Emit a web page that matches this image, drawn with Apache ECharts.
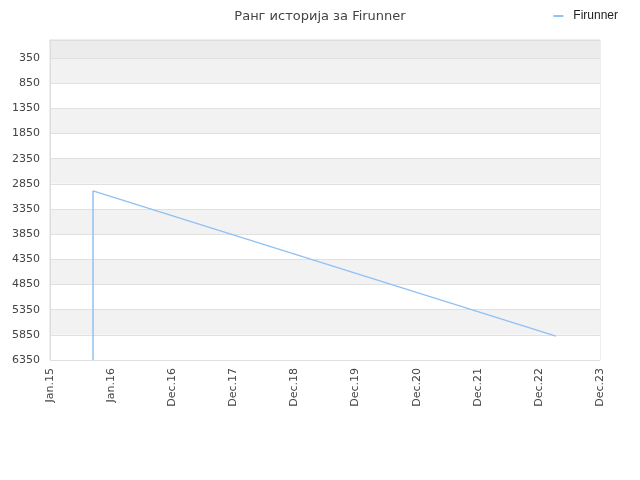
<!DOCTYPE html>
<html style="height: 100%">
  <head>
    <meta charset="utf-8" />
  </head>
  <body style="height: 100%; margin: 0">
    <div id="container" style="height: 100%"></div>
    <script
      type="text/javascript"
      src="https://cdn.jsdelivr.net/npm/echarts@6/dist/echarts.min.js"
    ></script>
    <script type="text/javascript">
      var seriesName = "Firunner";
      // rank history: dates and rank values
      var rankDates = ["2015-09-15", "2015-09-15", "2023-04-11"];
      var rankValues = [6350, 2990, 5875];
      // y tick labels
      var yLabels = [350, 850, 1350, 1850, 2350, 2850, 3350, 3850, 4350, 4850, 5350, 5850, 6350];
      var yTop = -8;
      // x axis: start date, step of 365 days
      var xStart = "2015-01-01";
      var xStepDays = 365;
      var xSteps = 9;
      var months = ["Jan", "Feb", "Mar", "Apr", "May", "Jun", "Jul", "Aug", "Sep", "Oct", "Nov", "Dec"];

      var DAY = 86400000;
      var xMin = Date.parse(xStart);
      var xMax = xMin + xSteps * xStepDays * DAY;

      var data = rankDates.map(function (d, i) {
        return [Date.parse(d), rankValues[i]];
      });

      var bandColors = ["#ececec"];
      for (var i = 0; i < yLabels.length; i++) {
        bandColors.push(i % 2 === 0 ? "#f2f2f2" : "#ffffff");
      }

      var dom = document.getElementById("container");
      var myChart = echarts.init(dom);
      var option = {
        textStyle: { fontFamily: "DejaVu Sans" },
        title: {
          text: "Ранг историја за Firunner",
          left: "center",
          top: 5,
          textStyle: { fontSize: 13, fontWeight: "normal", color: "#444", fontFamily: "DejaVu Sans" },
        },
        legend: {
          right: 17,
          top: 5,
          icon: "rect",
          itemWidth: 10,
          itemHeight: 2,
          itemGap: 5,
          textStyle: {
            fontSize: 12,
            color: "#222",
            fontFamily: "Liberation Sans",
            padding: [0, 0, 0, 5],
          },
          data: [seriesName],
        },
        grid: {
          left: 50,
          right: 40,
          top: 40,
          bottom: 120,
          show: true,
          borderColor: "#dddddd",
          borderWidth: 1,
        },
        xAxis: {
          type: "value",
          min: xMin,
          max: xMax,
          interval: xStepDays * DAY,
          axisLine: { lineStyle: { color: "#dddddd" } },
          axisTick: { show: false },
          splitLine: { show: false },
          axisLabel: {
            rotate: 90,
            margin: 8,
            fontSize: 11,
            color: "#444",
            fontFamily: "DejaVu Sans",
            formatter: function (v) {
              var d = new Date(v);
              return months[d.getUTCMonth()] + "." + String(d.getUTCFullYear()).slice(2);
            },
          },
        },
        yAxis: {
          type: "value",
          inverse: true,
          min: yTop,
          max: yLabels[yLabels.length - 1],
          axisLine: { show: true, lineStyle: { color: "#dddddd" } },
          axisTick: { show: false, customValues: [yTop].concat(yLabels) },
          axisLabel: {
            customValues: yLabels,
            margin: 10,
            fontSize: 11,
            color: "#444",
            fontFamily: "DejaVu Sans",
            formatter: function (v) {
              return String(v);
            },
          },
          splitLine: { show: true, lineStyle: { color: "#e0e0e0" } },
          splitArea: { show: true, areaStyle: { color: bandColors } },
        },
        series: [
          {
            name: seriesName,
            type: "line",
            data: data,
            showSymbol: false,
            symbol: "none",
            color: "#90c2f4",
            lineStyle: { width: 1.5, color: "#90c2f4" },
          },
        ],
      };

      if (option && typeof option === "object") {
        myChart.setOption(option);
      }
    </script>
  </body>
</html>
